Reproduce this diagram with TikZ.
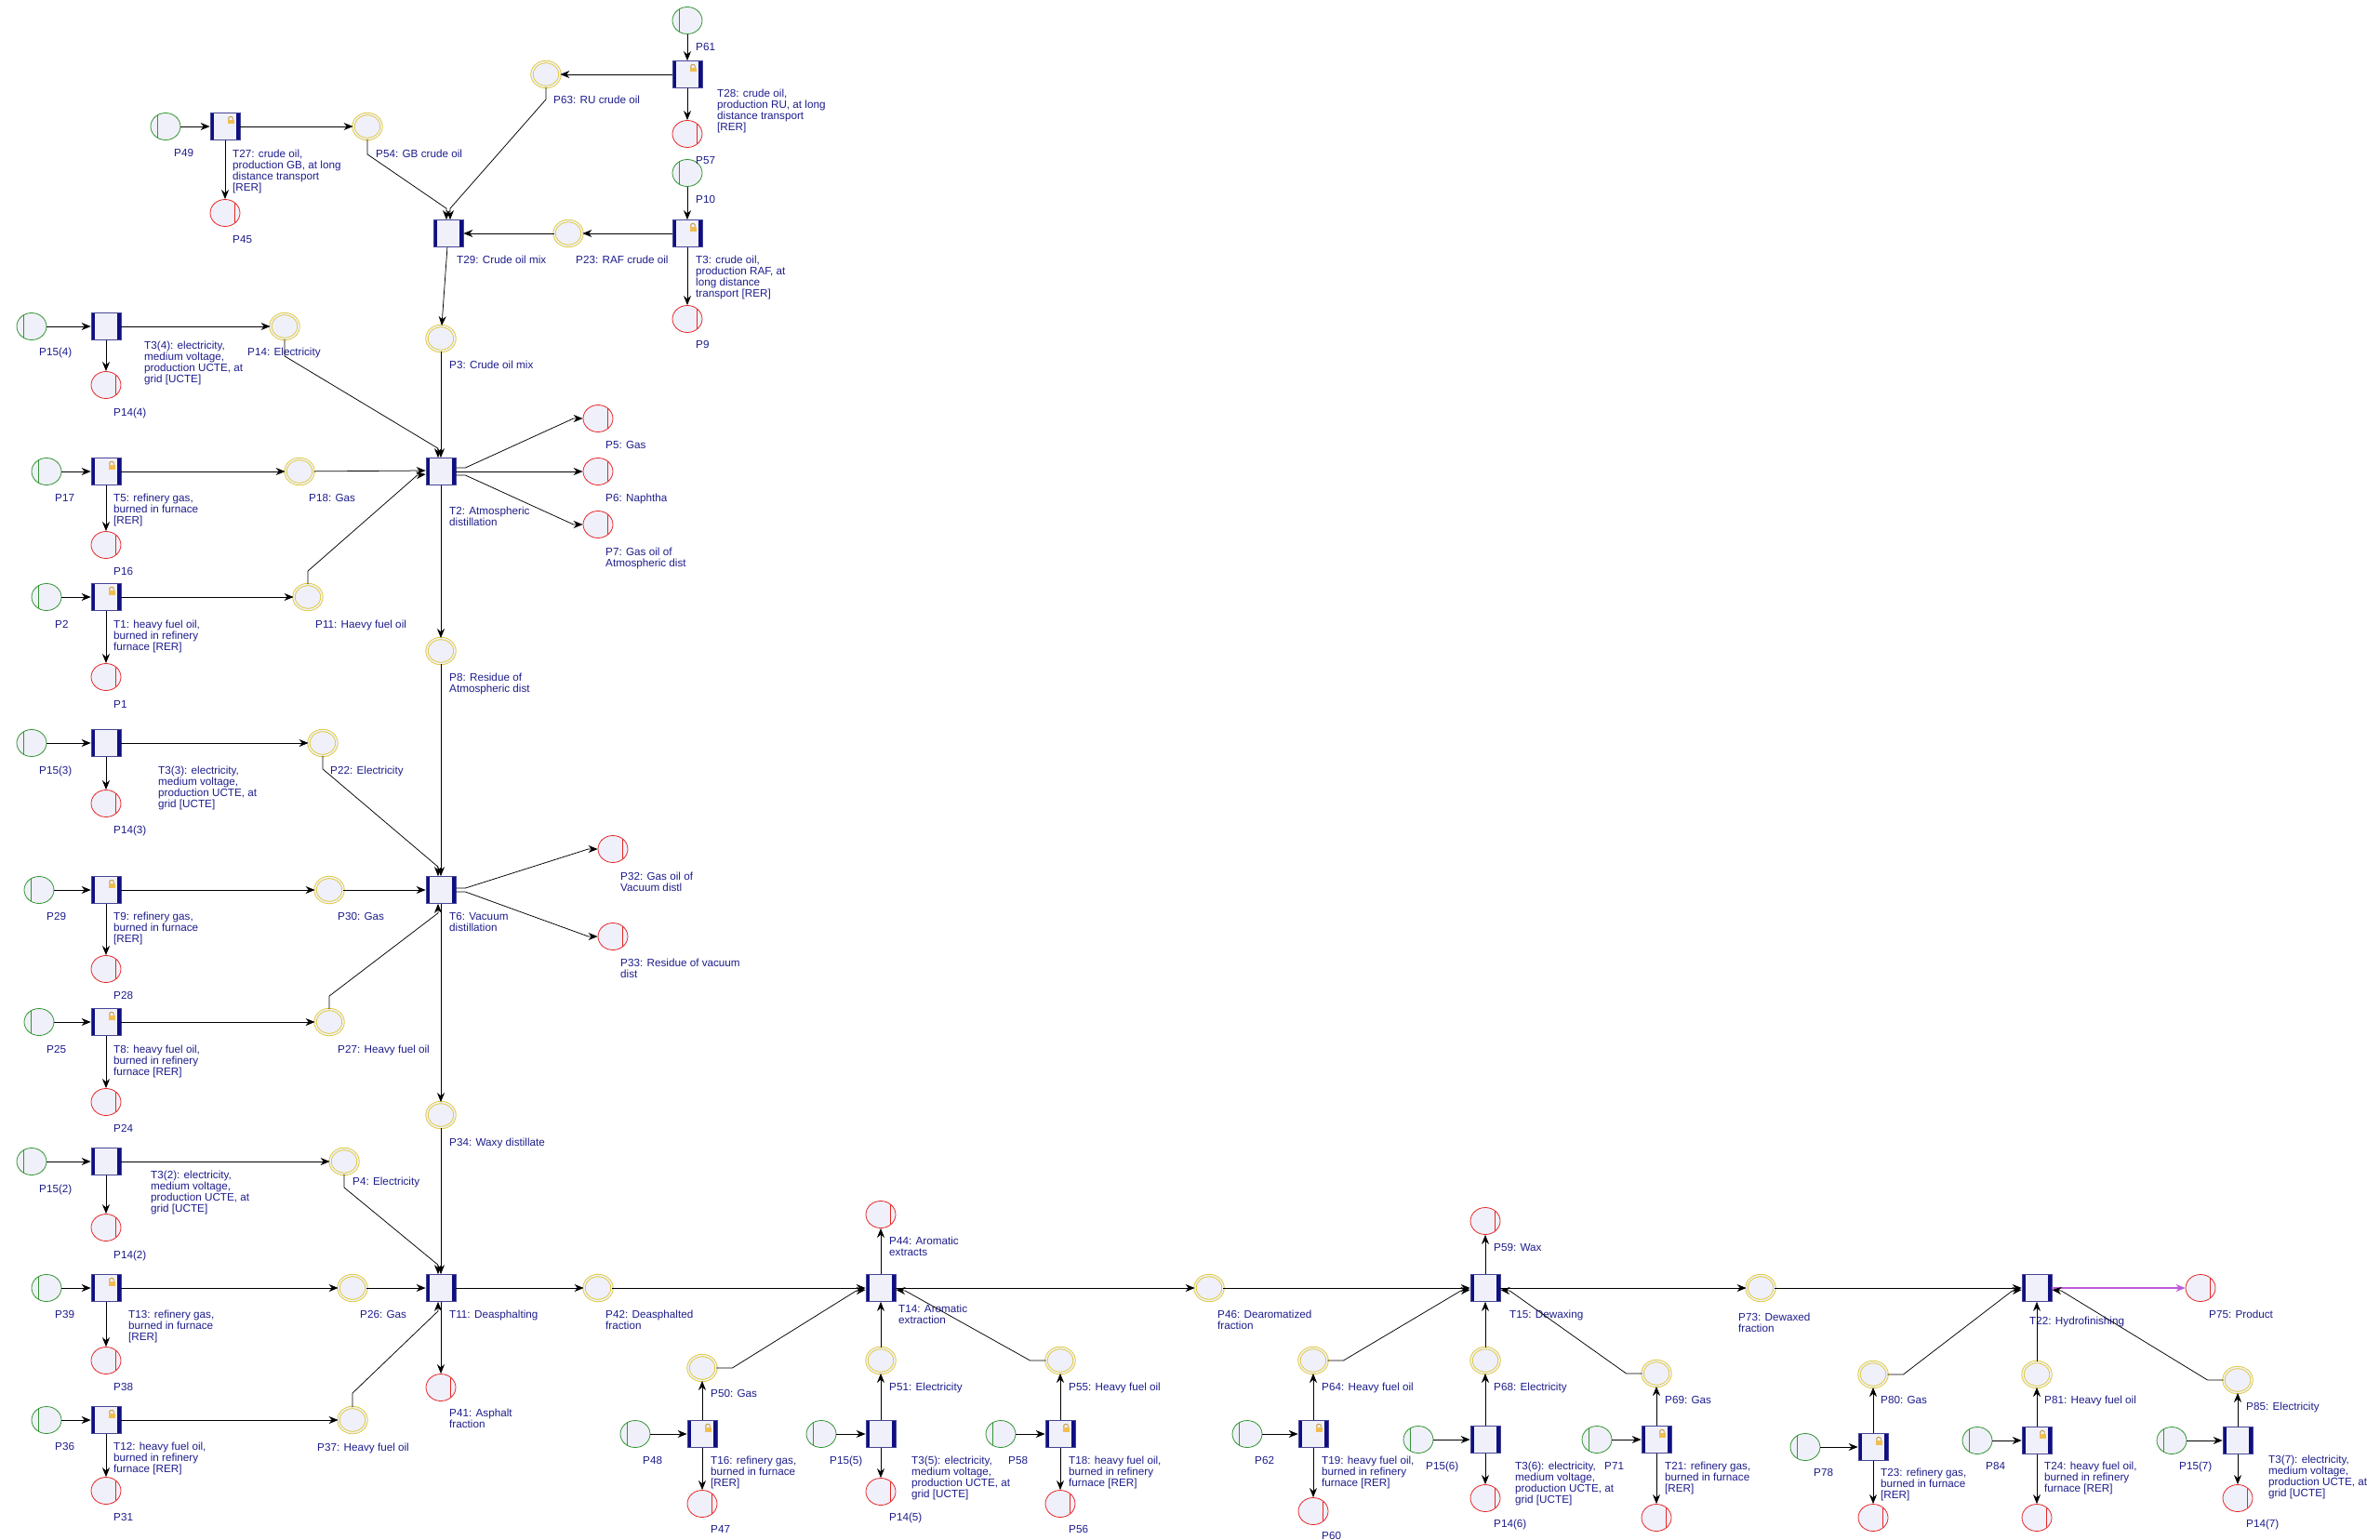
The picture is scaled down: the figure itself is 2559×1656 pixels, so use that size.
\documentclass[tikz,border=0pt]{standalone}
\usepackage{fontspec}
\setmainfont{Liberation Sans}
\usetikzlibrary{shapes.geometric,arrows.meta}
\definecolor{pfill}{RGB}{240,240,250}
\definecolor{cgreen}{RGB}{50,150,50}
\definecolor{cred}{RGB}{230,40,40}
\definecolor{cyel}{RGB}{222,200,45}
\definecolor{tnavy}{RGB}{15,15,130}
\definecolor{tedge}{RGB}{70,70,150}
\definecolor{clab}{RGB}{30,30,140}
\definecolor{cpurp}{RGB}{190,90,220}
\definecolor{lockc}{RGB}{240,190,80}
\definecolor{lockd}{RGB}{200,150,50}
\newcommand\mkS[3]{\node[srcp] (#1) at (#2,#3) {};}
\newcommand\mkK[3]{\node[sinkp] (#1) at (#2,#3) {};}
\newcommand\mkI[3]{\node[midp] (#1) at (#2,#3) {};}
\newcommand\mkT[3]{\node[trans] (#1) at (#2,#3) {};}
\newcommand\mkTL[3]{\node[transl] (#1) at (#2,#3) {};}
\newcommand\mkL[4]{\node[lab] (l#1) at (#2,{#3-5}) {\rule{0pt}{9pt}#4};}
\begin{document}
\begin{tikzpicture}[x=1pt,y=-1pt,
  place/.style={ellipse, minimum width=32pt, minimum height=29pt, inner sep=0pt, fill=pfill, line width=0.8pt},
  srcp/.style={place, draw=cgreen, path picture={\draw[cgreen,line width=0.8pt] ([xshift=7pt]path picture bounding box.north west) -- ([xshift=7pt]path picture bounding box.south west);}},
  sinkp/.style={place, draw=cred, path picture={\draw[cred,line width=0.8pt] ([xshift=-6pt]path picture bounding box.north east) -- ([xshift=-6pt]path picture bounding box.south east);}},
  midp/.style={ellipse, minimum width=30pt, minimum height=27pt, inner sep=0pt, fill=pfill, draw=cyel, double=pfill, double distance=1.6pt, line width=0.85pt},
  trans/.style={rectangle, minimum width=32pt, minimum height=29pt, inner sep=0pt, fill=pfill, draw=tedge, line width=0.7pt,
    path picture={\fill[tnavy] (path picture bounding box.north west) rectangle ([xshift=4pt]path picture bounding box.south west);
                  \fill[tnavy] (path picture bounding box.north east) rectangle ([xshift=-4pt]path picture bounding box.south east);}},
  transl/.style={trans,
    path picture={\fill[tnavy] (path picture bounding box.north west) rectangle ([xshift=4pt]path picture bounding box.south west);
                  \fill[tnavy] (path picture bounding box.north east) rectangle ([xshift=-4pt]path picture bounding box.south east);
                  \coordinate (lk) at (path picture bounding box.center);
                  \draw[lockd, line width=0.9pt, rounded corners=1.2pt] ([shift={(3.8pt,7pt)}]lk) -- ([shift={(3.8pt,10.5pt)}]lk) -- ([shift={(8.2pt,10.5pt)}]lk) -- ([shift={(8.2pt,7pt)}]lk);
                  \fill[lockc] ([shift={(2.5pt,2.5pt)}]lk) rectangle ([shift={(9.5pt,7.2pt)}]lk);}},
  lab/.style={anchor=north west, inner sep=0pt, align=left, text=clab, font=\fontsize{11.7}{12.2}\selectfont},
  arr/.style={draw=black, line width=0.75pt, -{Stealth[length=10pt,width=8pt]}},
  parr/.style={arr, draw=cpurp, line width=1.2pt}]
\useasboundingbox (0,0) rectangle (2559,1656);
\clip (0,0) rectangle (2559,1656);
\fill[white] (0,0) rectangle (2559,1656);
% ---------- sources
\mkS{P61}{739}{22} \mkS{P10}{739}{186} \mkS{P49}{178}{136}
\mkS{P15x4}{34}{351} \mkS{P17}{50}{507} \mkS{P2}{50}{642}
\mkS{P15x3}{34}{799} \mkS{P29}{42}{957} \mkS{P25}{42}{1099}
\mkS{P15x2}{34}{1249} \mkS{P39}{50}{1385} \mkS{P36}{50}{1527}
\mkS{P48}{683}{1542} \mkS{P15x5}{883}{1542} \mkS{P58}{1076}{1542}
\mkS{P62}{1341}{1542} \mkS{P15x6}{1525}{1548} \mkS{P71}{1717}{1548}
\mkS{P78}{1941}{1556} \mkS{P84}{2126}{1549} \mkS{P15x7}{2335}{1549}
% ---------- sinks
\mkK{P57}{739}{144} \mkK{P9}{739}{343} \mkK{P45}{242}{229}
\mkK{P14x4}{114}{414} \mkK{P5}{643}{450} \mkK{P6}{643}{507} \mkK{P7}{643}{564}
\mkK{P16}{114}{586} \mkK{P1}{114}{728} \mkK{P14x3}{114}{864}
\mkK{P32}{659}{913} \mkK{P33}{659}{1007} \mkK{P28}{114}{1042} \mkK{P24}{114}{1185}
\mkK{P14x2}{114}{1320} \mkK{P38}{114}{1463} \mkK{P41}{474}{1492} \mkK{P31}{114}{1603}
\mkK{P44}{947}{1306} \mkK{P47}{755}{1617} \mkK{P14x5}{947}{1604} \mkK{P56}{1140}{1617}
\mkK{P59}{1597}{1313} \mkK{P60}{1412}{1625} \mkK{P14x6}{1597}{1611} \mkK{P70}{1781}{1632}
\mkK{P75}{2366}{1385} \mkK{P77}{2014}{1632} \mkK{P82}{2190}{1632} \mkK{P14x7}{2406}{1611}
% ---------- intermediate places
\mkI{P63}{587}{80} \mkI{P23}{611}{251} \mkI{P54}{395}{136} \mkI{P3}{474}{364}
\mkI{P14}{306}{351} \mkI{P18}{322}{507} \mkI{P11}{331}{642} \mkI{P8}{474}{700}
\mkI{P22}{347}{799} \mkI{P30}{354}{957} \mkI{P27}{354}{1099} \mkI{P34}{474}{1199}
\mkI{P4}{370}{1249} \mkI{P26}{379}{1385} \mkI{P37}{379}{1527} \mkI{P42}{643}{1385}
\mkI{P50}{755}{1471} \mkI{P51}{947}{1463} \mkI{P55}{1140}{1463} \mkI{P46}{1300}{1385}
\mkI{P64}{1412}{1463} \mkI{P68}{1597}{1463} \mkI{P69}{1781}{1477} \mkI{P73}{1893}{1385}
\mkI{P80}{2014}{1478} \mkI{P81}{2190}{1478} \mkI{P85}{2406}{1484}
% ---------- transitions
\mkTL{T28}{739}{80} \mkTL{T3}{739}{251} \mkT{T29}{482}{251} \mkTL{T27}{242}{136}
\mkT{T3x4}{114}{351} \mkT{T2}{474}{507} \mkTL{T5}{114}{507} \mkTL{T1}{114}{642}
\mkT{T3x3}{114}{799} \mkTL{T9}{114}{957} \mkT{T6}{474}{957} \mkTL{T8}{114}{1099}
\mkT{T3x2}{114}{1249} \mkTL{T13}{114}{1385} \mkT{T11}{474}{1385} \mkTL{T12}{114}{1527}
\mkT{T14}{947}{1385} \mkTL{T16}{755}{1542} \mkT{T3x5}{947}{1542} \mkTL{T18}{1140}{1542}
\mkT{T15}{1597}{1385} \mkTL{T19}{1412}{1542} \mkT{T3x6}{1597}{1548} \mkTL{T21}{1781}{1548}
\mkT{T22}{2190}{1385} \mkTL{T23}{2014}{1556} \mkTL{T24}{2190}{1549} \mkT{T3x7}{2406}{1549}
% ---------- labels
\mkL{P61}{748}{50}{P61}
\mkL{T28}{771}{100}{T28: crude oil,\\production RU, at long\\distance transport\\{[RER]}}
\mkL{P57}{748}{172}{P57}
\mkL{P63}{595}{107}{P63: RU crude oil}
\mkL{P10}{748}{214}{P10}
\mkL{T3}{748}{279}{T3: crude oil,\\production RAF, at\\long distance\\transport [RER]}
\mkL{P9}{748}{370}{P9}
\mkL{P23}{619}{279}{P23: RAF crude oil}
\mkL{T29}{491}{279}{T29: Crude oil mix}
\mkL{P49}{187}{164}{P49}
\mkL{T27}{250}{165}{T27: crude oil,\\production GB, at long\\distance transport\\{[RER]}}
\mkL{P45}{250}{257}{P45}
\mkL{P54}{404}{165}{P54: GB crude oil}
\mkL{P3}{483}{392}{P3: Crude oil mix}
\mkL{P15x4}{42}{378}{P15(4)}
\mkL{T3x4}{155}{371}{T3(4): electricity,\\medium voltage,\\production UCTE, at\\grid [UCTE]}
\mkL{P14x4}{122}{443}{P14(4)}
\mkL{P14}{266}{378}{P14: Electricity}
\mkL{T2}{483}{549}{T2: Atmospheric\\distillation}
\mkL{P5}{651}{478}{P5: Gas}
\mkL{P6}{651}{535}{P6: Naphtha}
\mkL{P7}{651}{593}{P7: Gas oil of\\Atmospheric dist}
\mkL{P8}{483}{728}{P8: Residue of\\Atmospheric dist}
\mkL{P17}{59}{535}{P17}
\mkL{T5}{122}{535}{T5: refinery gas,\\burned in furnace\\{[RER]}}
\mkL{P18}{332}{535}{P18: Gas}
\mkL{P16}{122}{614}{P16}
\mkL{P2}{59}{671}{P2}
\mkL{T1}{122}{671}{T1: heavy fuel oil,\\burned in refinery\\furnace [RER]}
\mkL{P11}{339}{671}{P11: Haevy fuel oil}
\mkL{P1}{122}{757}{P1}
\mkL{P15x3}{42}{828}{P15(3)}
\mkL{T3x3}{170}{828}{T3(3): electricity,\\medium voltage,\\production UCTE, at\\grid [UCTE]}
\mkL{P14x3}{122}{892}{P14(3)}
\mkL{P22}{355}{828}{P22: Electricity}
\mkL{P29}{50}{985}{P29}
\mkL{T9}{122}{985}{T9: refinery gas,\\burned in furnace\\{[RER]}}
\mkL{P30}{363}{985}{P30: Gas}
\mkL{T6}{483}{985}{T6: Vacuum\\distillation}
\mkL{P32}{667}{942}{P32: Gas oil of\\Vacuum distl}
\mkL{P33}{667}{1035}{P33: Residue of vacuum\\dist}
\mkL{P28}{122}{1070}{P28}
\mkL{P25}{50}{1128}{P25}
\mkL{T8}{122}{1128}{T8: heavy fuel oil,\\burned in refinery\\furnace [RER]}
\mkL{P27}{363}{1128}{P27: Heavy fuel oil}
\mkL{P24}{122}{1213}{P24}
\mkL{P34}{483}{1228}{P34: Waxy distillate}
\mkL{P15x2}{42}{1278}{P15(2)}
\mkL{T3x2}{162}{1263}{T3(2): electricity,\\medium voltage,\\production UCTE, at\\grid [UCTE]}
\mkL{P4}{379}{1270}{P4: Electricity}
\mkL{P14x2}{122}{1349}{P14(2)}
\mkL{P39}{59}{1413}{P39}
\mkL{T13}{138}{1413}{T13: refinery gas,\\burned in furnace\\{[RER]}}
\mkL{P26}{387}{1413}{P26: Gas}
\mkL{T11}{483}{1413}{T11: Deasphalting}
\mkL{P42}{651}{1413}{P42: Deasphalted\\fraction}
\mkL{P38}{122}{1491}{P38}
\mkL{P41}{483}{1519}{P41: Asphalt\\fraction}
\mkL{P36}{59}{1555}{P36}
\mkL{T12}{122}{1555}{T12: heavy fuel oil,\\burned in refinery\\furnace [RER]}
\mkL{P37}{341}{1556}{P37: Heavy fuel oil}
\mkL{P31}{122}{1631}{P31}
\mkL{P44}{956}{1334}{P44: Aromatic\\extracts}
\mkL{T14}{966}{1407}{T14: Aromatic\\extraction}
\mkL{P50}{764}{1498}{P50: Gas}
\mkL{P48}{691}{1570}{P48}
\mkL{T16}{764}{1570}{T16: refinery gas,\\burned in furnace\\{[RER]}}
\mkL{P47}{764}{1644}{P47}
\mkL{P51}{956}{1491}{P51: Electricity}
\mkL{P15x5}{892}{1570}{P15(5)}
\mkL{T3x5}{980}{1570}{T3(5): electricity,\\medium voltage,\\production UCTE, at\\grid [UCTE]}
\mkL{P14x5}{956}{1631}{P14(5)}
\mkL{P55}{1149}{1491}{P55: Heavy fuel oil}
\mkL{P58}{1084}{1570}{P58}
\mkL{T18}{1149}{1570}{T18: heavy fuel oil,\\burned in refinery\\furnace [RER]}
\mkL{P56}{1149}{1644}{P56}
\mkL{P46}{1309}{1413}{P46: Dearomatized\\fraction}
\mkL{P59}{1606}{1341}{P59: Wax}
\mkL{T15}{1623}{1413}{T15: Dewaxing}
\mkL{P64}{1421}{1491}{P64: Heavy fuel oil}
\mkL{P62}{1349}{1570}{P62}
\mkL{T19}{1421}{1570}{T19: heavy fuel oil,\\burned in refinery\\furnace [RER]}
\mkL{P60}{1421}{1651}{P60}
\mkL{P68}{1606}{1491}{P68: Electricity}
\mkL{P15x6}{1533}{1576}{P15(6)}
\mkL{T3x6}{1629}{1576}{T3(6): electricity,\\medium voltage,\\production UCTE, at\\grid [UCTE]}
\mkL{P14x6}{1606}{1638}{P14(6)}
\mkL{P69}{1790}{1505}{P69: Gas}
\mkL{P71}{1725}{1576}{P71}
\mkL{T21}{1790}{1576}{T21: refinery gas,\\burned in furnace\\{[RER]}}
\mkL{P70}{1790}{1661}{P70}
\mkL{P73}{1869}{1416}{P73: Dewaxed\\fraction}
\mkL{T22}{2182}{1420}{T22: Hydrofinishing}
\mkL{P75}{2375}{1413}{P75: Product}
\mkL{P80}{2022}{1505}{P80: Gas}
\mkL{P78}{1950}{1583}{P78}
\mkL{T23}{2022}{1583}{T23: refinery gas,\\burned in furnace\\{[RER]}}
\mkL{P77}{2022}{1661}{P77}
\mkL{P81}{2198}{1505}{P81: Heavy fuel oil}
\mkL{P84}{2135}{1576}{P84}
\mkL{T24}{2198}{1576}{T24: heavy fuel oil,\\burned in refinery\\furnace [RER]}
\mkL{P82}{2198}{1661}{P82}
\mkL{P85}{2415}{1512}{P85: Electricity}
\mkL{P15x7}{2343}{1576}{P15(7)}
\mkL{T3x7}{2439}{1569}{T3(7): electricity,\\medium voltage,\\production UCTE, at\\grid [UCTE]}
\mkL{P14x7}{2415}{1638}{P14(7)}
% ---------- arcs: crude oil supply
\draw[arr] (P61) -- (T28);
\draw[arr] (T28) -- (P63);
\draw[arr] (T28) -- (P57);
\draw[arr] (P10) -- (T3);
\draw[arr] (T3) -- (P23);
\draw[arr] (T3) -- (P9);
\draw[arr] (P23) -- (T29);
\draw[arr] (P49) -- (T27);
\draw[arr] (T27) -- (P54);
\draw[arr] (T27) -- (P45);
\draw[arr] (P54.south) -- ++(0,16) -- ([xshift=-2pt,yshift=12pt]T29.north) -- ([xshift=-2pt]T29.north);
\draw[arr] (P63.south) -- ++(0,13) -- ([xshift=2pt,yshift=12pt]T29.north) -- ([xshift=2pt]T29.north);
\draw[arr] (T29) -- (P3);
\draw[arr] (P3) -- (T2);
% ---------- left rows
\draw[arr] (P15x4) -- (T3x4); \draw[arr] (T3x4) -- (P14x4); \draw[arr] (T3x4) -- (P14);
\draw[arr] (P17) -- (T5); \draw[arr] (T5) -- (P16); \draw[arr] (T5) -- (P18);
\draw[arr] (P2) -- (T1); \draw[arr] (T1) -- (P1); \draw[arr] (T1) -- (P11);
\draw[arr] (P15x3) -- (T3x3); \draw[arr] (T3x3) -- (P14x3); \draw[arr] (T3x3) -- (P22);
\draw[arr] (P29) -- (T9); \draw[arr] (T9) -- (P28); \draw[arr] (T9) -- (P30);
\draw[arr] (P25) -- (T8); \draw[arr] (T8) -- (P24); \draw[arr] (T8) -- (P27);
\draw[arr] (P15x2) -- (T3x2); \draw[arr] (T3x2) -- (P14x2); \draw[arr] (T3x2) -- (P4);
\draw[arr] (P39) -- (T13); \draw[arr] (T13) -- (P38); \draw[arr] (T13) -- (P26);
\draw[arr] (P36) -- (T12); \draw[arr] (T12) -- (P31); \draw[arr] (T12) -- (P37);
% ---------- T2 atmospheric distillation
\draw[arr] (P14.south) -- ++(0,18) -- ([xshift=-3pt,yshift=10pt]T2.north) -- ([xshift=-3pt]T2.north);
\draw[arr] (P18) -- ([yshift=1pt]T2.west);
\draw[arr] (P11.north) -- ++(0,-14) -- ([xshift=-9pt,yshift=-4pt]T2.west) -- ([yshift=-3pt]T2.west);
\draw[arr] ([yshift=4pt]T2.east) -- ++(10,0) -- ([xshift=-10pt]P5.west) -- (P5.west);
\draw[arr] (T2) -- (P6);
\draw[arr] ([yshift=-4pt]T2.east) -- ++(10,0) -- ([xshift=-10pt]P7.west) -- (P7.west);
\draw[arr] (T2) -- (P8);
% ---------- T6 vacuum distillation
\draw[arr] (P8) -- (T6);
\draw[arr] (P22.south) -- ++(0,14) -- ([xshift=-3pt,yshift=10pt]T6.north) -- ([xshift=-3pt]T6.north);
\draw[arr] (P30) -- (T6);
\draw[arr] (P27.north) -- ++(0,-14) -- ([xshift=-3pt,yshift=-10pt]T6.south) -- ([xshift=-3pt]T6.south);
\draw[arr] ([yshift=2pt]T6.east) -- ++(10,0) -- ([xshift=-10pt]P32.west) -- (P32.west);
\draw[arr] ([yshift=-2pt]T6.east) -- ++(10,0) -- ([xshift=-10pt]P33.west) -- (P33.west);
\draw[arr] (T6) -- (P34);
% ---------- T11 deasphalting
\draw[arr] (P34) -- (T11);
\draw[arr] (P4.south) -- ++(0,14) -- ([xshift=-3pt,yshift=10pt]T11.north) -- ([xshift=-3pt]T11.north);
\draw[arr] (P26) -- (T11);
\draw[arr] (P37.north) -- ++(0,-15) -- ([xshift=-3pt,yshift=-10pt]T11.south) -- ([xshift=-3pt]T11.south);
\draw[arr] (T11) -- (P41);
\draw[arr] (T11) -- (P42);
% ---------- T14 aromatic extraction
\draw[arr] (P42) -- (T14);
\draw[arr] (T14) -- (P44);
\draw[arr] (T14) -- (P46);
\draw[arr] (P48) -- (T16); \draw[arr] (T16) -- (P47); \draw[arr] (T16) -- (P50);
\draw[arr] (P50.east) -- ++(17,0) -- ([xshift=-10pt,yshift=-3pt]T14.west) -- ([yshift=-2pt]T14.west);
\draw[arr] (P15x5) -- (T3x5); \draw[arr] (T3x5) -- (P14x5); \draw[arr] (T3x5) -- (P51);
\draw[arr] (P51) -- (T14);
\draw[arr] (P58) -- (T18); \draw[arr] (T18) -- (P56); \draw[arr] (T18) -- (P55);
\draw[arr] (P55.west) -- ++(-17,0) -- ([xshift=10pt,yshift=-3pt]T14.east) -- ([yshift=-2pt]T14.east);
% ---------- T15 dewaxing
\draw[arr] (P46) -- (T15);
\draw[arr] (T15) -- (P59);
\draw[arr] (T15) -- (P73);
\draw[arr] (P62) -- (T19); \draw[arr] (T19) -- (P60); \draw[arr] (T19) -- (P64);
\draw[arr] (P64.east) -- ++(17,0) -- ([xshift=-10pt,yshift=-3pt]T15.west) -- ([yshift=-2pt]T15.west);
\draw[arr] (P15x6) -- (T3x6); \draw[arr] (T3x6) -- (P14x6); \draw[arr] (T3x6) -- (P68);
\draw[arr] (P68) -- (T15);
\draw[arr] (P71) -- (T21); \draw[arr] (T21) -- (P70); \draw[arr] (T21) -- (P69);
\draw[arr] (P69.west) -- ++(-17,0) -- ([xshift=10pt,yshift=-3pt]T15.east) -- ([yshift=-2pt]T15.east);
% ---------- T22 hydrofinishing
\draw[arr] (P73) -- (T22);
\draw[parr] (T22) -- (P75);
\draw[arr] (P78) -- (T23); \draw[arr] (T23) -- (P77); \draw[arr] (T23) -- (P80);
\draw[arr] (P80.east) -- ++(17,0) -- ([xshift=-10pt,yshift=-3pt]T22.west) -- ([yshift=-2pt]T22.west);
\draw[arr] (P84) -- (T24); \draw[arr] (T24) -- (P82); \draw[arr] (T24) -- (P81);
\draw[arr] (P81) -- (T22);
\draw[arr] (P15x7) -- (T3x7); \draw[arr] (T3x7) -- (P14x7); \draw[arr] (T3x7) -- (P85);
\draw[arr] (P85.west) -- ++(-17,0) -- ([xshift=10pt,yshift=-3pt]T22.east) -- ([yshift=-2pt]T22.east);
\end{tikzpicture}
\end{document}
